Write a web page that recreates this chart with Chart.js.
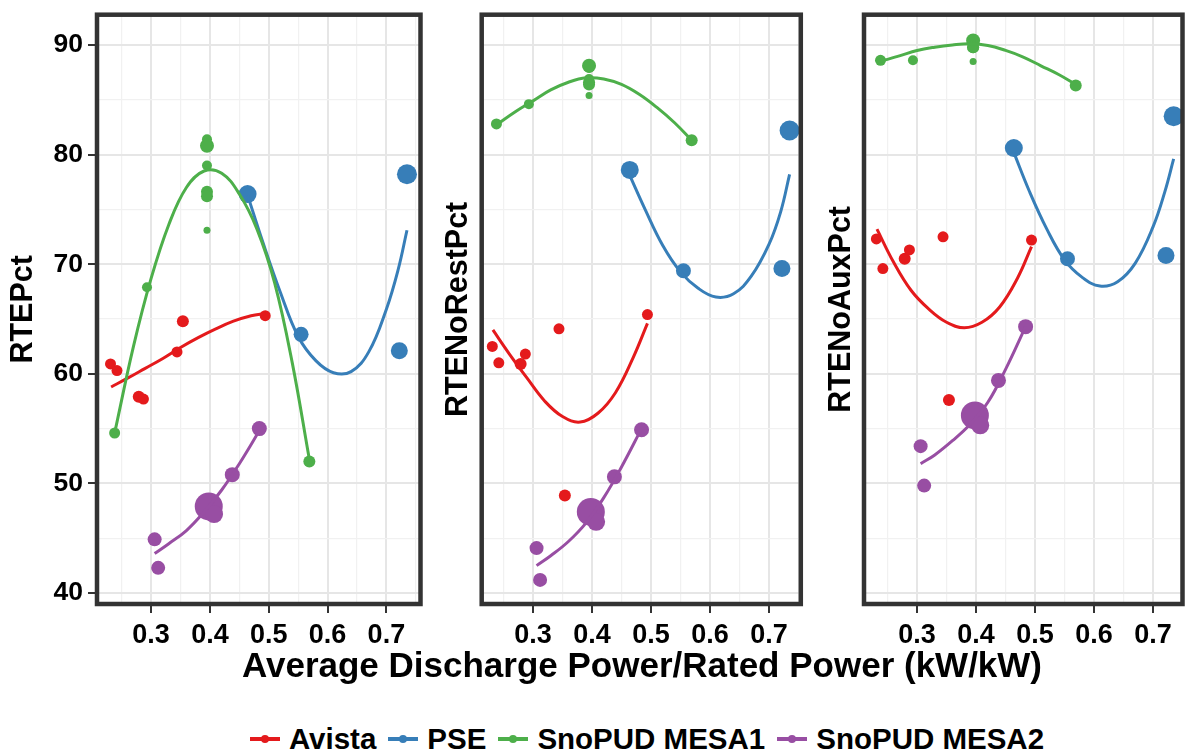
<!DOCTYPE html>
<html>
<head>
<meta charset="utf-8">
<script src="https://cdn.jsdelivr.net/npm/chart.js@4.4.1/dist/chart.umd.min.js"></script>
<style>
  body { margin: 0; background: #fff; width: 1188px; height: 756px; position: relative; overflow: hidden;
         font-family: "Liberation Sans", Arial, sans-serif; }
  canvas.panel { position: absolute; top: 0; }
  #xtitle { position: absolute; left: 0; width: 1284px; top: 645px; text-align: center;
            font-size: 35px; line-height: 40px; font-weight: bold; color: #000; }
  #legend { position: absolute; left: 59px; width: 1188px; top: 723px; display: flex; justify-content: center;
            font-size: 29.5px; line-height: 32px; font-weight: bold; color: #000; }
  .item { display: flex; align-items: center; margin-right: 12px; }
  .key { position: relative; width: 30px; height: 32px; margin-right: 9px; }
  .key .ln { position: absolute; left: 0; top: 14px; width: 30px; height: 3.5px; }
  .key .dt { position: absolute; left: 11px; top: 11.5px; width: 8px; height: 8px; border-radius: 50%; }
</style>
</head>
<body>
<canvas id="c1" class="panel" width="424" height="660" style="left:0px"></canvas>
<canvas id="c2" class="panel" width="374" height="660" style="left:430px"></canvas>
<canvas id="c3" class="panel" width="374" height="660" style="left:814px"></canvas>
<div id="xtitle">Average Discharge Power/Rated Power (kW/kW)</div>
<div id="legend"></div>
<script>
// axis ticks
var xMajor = [0.3, 0.4, 0.5, 0.6, 0.7];
var xMinor = [0.25, 0.35, 0.45, 0.55, 0.65, 0.75];
var yMajor = [40, 50, 60, 70, 80, 90];
var yMinor = [45, 55, 65, 75, 85];

var companies = ["Avista", "PSE", "SnoPUD MESA1", "SnoPUD MESA2"];
var colors = ["#E41A1C", "#377EB8", "#4DAF4A", "#984EA3"];
var metrics = ["RTEPct", "RTENoRestPct", "RTENoAuxPct"];

// test points (x shared by the three panels, size = marker size)
var avistaX = [0.231, 0.242, 0.279, 0.287, 0.344, 0.354, 0.494];
var avistaSize = [5.5, 5.5, 6, 5.5, 5.5, 6, 5.5];
var avistaRTE = [60.9, 60.3, 57.9, 57.7, 62.0, 64.8, 65.3];
var avistaNoRest = [62.5, 61.0, 60.9, 61.8, 64.1, 48.9, 65.4];
var avistaNoAux = [72.3, 69.6, 70.5, 71.3, 72.5, 57.6, 72.2];

var pseX = [0.464, 0.555, 0.722, 0.735];
var pseSize = [9, 7.5, 8.5, 10];
var pseRTE = [76.4, 63.6, 62.1, 78.2];
var pseNoRest = [78.6, 69.4, 69.6, 82.2];
var pseNoAux = [80.6, 70.5, 70.8, 83.5];

var mesa1X = [0.238, 0.293, 0.395, 0.395, 0.395, 0.395, 0.395, 0.395, 0.569];
var mesa1Size = [5.5, 5, 5, 7, 5, 6, 6, 3.5, 6];
var mesa1RTE = [54.6, 67.9, 81.4, 80.8, 79.0, 76.6, 76.2, 73.1, 52.0];
var mesa1NoRest = [82.8, 84.6, 87.9, 88.1, 86.9, 86.6, 86.4, 85.4, 81.3];
var mesa1NoAux = [88.6, 88.6, 90.4, 90.4, 90.0, 89.8, 89.8, 88.5, 86.3];

var mesa2X = [0.306, 0.312, 0.398, 0.407, 0.438, 0.484];
var mesa2Size = [7, 7, 14, 9, 7.5, 7.5];
var mesa2RTE = [44.9, 42.3, 47.9, 47.2, 50.8, 55.0];
var mesa2NoRest = [44.1, 41.2, 47.4, 46.5, 50.6, 54.9];
var mesa2NoAux = [53.4, 49.8, 56.2, 55.3, 59.4, 64.3];

// fitted curves
var avistaFitX = [0.232, 0.26, 0.29, 0.32, 0.35, 0.38, 0.41, 0.44, 0.47, 0.494];
var avistaFitRTE = [58.8, 59.6, 60.5, 61.4, 62.4, 63.3, 64.1, 64.8, 65.3, 65.5];
var avistaFitNoRest = [64.0, 61.8, 59.6, 57.5, 56.1, 55.6, 56.4, 58.3, 61.5, 64.6];
var avistaFitNoAux = [73.2, 70.2, 67.6, 65.9, 64.7, 64.2, 64.7, 66.1, 68.7, 71.6];

var pseFitX = [0.464, 0.49, 0.52, 0.55, 0.58, 0.61, 0.64, 0.67, 0.70, 0.72, 0.735];
var pseFitRTE = [76.3, 72.0, 67.4, 63.4, 61.2, 60.1, 60.2, 62.0, 65.9, 69.5, 73.1];
var pseFitNoRest = [78.1, 75.0, 71.7, 69.3, 67.8, 67.0, 67.3, 68.9, 71.8, 74.8, 78.2];
var pseFitNoAux = [80.2, 76.7, 73.2, 70.4, 68.8, 68.0, 68.4, 70.1, 73.4, 76.6, 79.6];

var mesa1FitX = [0.238, 0.27, 0.30, 0.33, 0.36, 0.39, 0.42, 0.45, 0.48, 0.51, 0.54, 0.569];
var mesa1FitRTE = [54.6, 62.5, 68.7, 73.6, 77.0, 78.5, 78.3, 76.4, 73.2, 68.3, 61.0, 52.2];
var mesa1FitNoRest = [82.7, 83.9, 84.9, 85.9, 86.6, 87.0, 86.9, 86.4, 85.5, 84.3, 82.9, 81.3];
var mesa1FitNoAux = [88.5, 89.0, 89.5, 89.8, 90.0, 90.1, 89.95, 89.5, 88.9, 88.1, 87.3, 86.4];

var mesa2FitX = [0.306, 0.33, 0.36, 0.39, 0.42, 0.45, 0.484];
var mesa2FitRTE = [43.6, 44.5, 45.7, 47.4, 49.4, 51.8, 54.8];
var mesa2FitNoRest = [42.5, 43.4, 44.7, 46.4, 48.7, 51.5, 55.0];
var mesa2FitNoAux = [51.8, 52.6, 53.9, 55.4, 57.4, 60.4, 64.3];

var series = [
  { x: avistaX, size: avistaSize, y: [avistaRTE, avistaNoRest, avistaNoAux],
    fitX: avistaFitX, fitY: [avistaFitRTE, avistaFitNoRest, avistaFitNoAux] },
  { x: pseX, size: pseSize, y: [pseRTE, pseNoRest, pseNoAux],
    fitX: pseFitX, fitY: [pseFitRTE, pseFitNoRest, pseFitNoAux] },
  { x: mesa1X, size: mesa1Size, y: [mesa1RTE, mesa1NoRest, mesa1NoAux],
    fitX: mesa1FitX, fitY: [mesa1FitRTE, mesa1FitNoRest, mesa1FitNoAux] },
  { x: mesa2X, size: mesa2Size, y: [mesa2RTE, mesa2NoRest, mesa2NoAux],
    fitX: mesa2FitX, fitY: [mesa2FitRTE, mesa2FitNoRest, mesa2FitNoAux] }
];

// panel layout (canvas px)
var panels = [
  { id: "c1", showY: true,  xMin: 0.208, xMax: 0.758, axisW: 97,   padR: 3.5, titlePad: 5.7 },
  { id: "c2", showY: false, xMin: 0.213, xMax: 0.754, axisW: 51.7, padR: 3.2, titlePad: 10.2 },
  { id: "c3", showY: false, xMin: 0.210, xMax: 0.750, axisW: 50,   padR: 5.5, titlePad: 9.7 }
];

var FONT = "'Liberation Sans', Arial, sans-serif";

function isMajor(v, list) {
  for (var i = 0; i < list.length; i++) {
    if (Math.abs(list[i] - v) < 1e-6) return true;
  }
  return false;
}

function toPoints(xs, ys) {
  var out = [];
  for (var i = 0; i < xs.length; i++) out.push({ x: xs[i], y: ys[i] });
  return out;
}

// no extra room for edge labels, the panel box is fixed
function noPadding(scale) {
  scale.paddingTop = 0;
  scale.paddingBottom = 0;
  scale.paddingLeft = 0;
  scale.paddingRight = 0;
}

var panelBorder = {
  id: "panelBorder",
  afterDatasetsDraw: function(chart) {
    var a = chart.chartArea, ctx = chart.ctx;
    ctx.save();
    ctx.strokeStyle = "#333333";
    ctx.lineWidth = 4.5;
    ctx.strokeRect(a.left, a.top, a.right - a.left, a.bottom - a.top);
    ctx.restore();
  }
};

function drawPanel(p, k) {
  var datasets = [];
  series.forEach(function(s, i) {
    datasets.push({
      label: companies[i] + " fit",
      data: toPoints(s.fitX, s.fitY[k]),
      showLine: true,
      borderColor: colors[i],
      borderWidth: 3,
      pointRadius: 0,
      tension: 0.4,
      fill: false,
      order: 4 - i
    });
  });
  series.forEach(function(s, i) {
    datasets.push({
      label: companies[i],
      data: toPoints(s.x, s.y[k]),
      showLine: false,
      backgroundColor: colors[i],
      borderWidth: 0,
      pointRadius: s.size,
      pointHoverRadius: s.size,
      order: 10 + (4 - i)
    });
  });

  var canvas = document.getElementById(p.id);
  new Chart(canvas.getContext("2d"), {
    type: "scatter",
    data: { datasets: datasets },
    plugins: [panelBorder],
    options: {
      responsive: false,
      animation: false,
      layout: { autoPadding: false, padding: { top: 14.7, right: p.padR, bottom: 0, left: 0 } },
      plugins: { legend: { display: false }, tooltip: { enabled: false } },
      scales: {
        x: {
          type: "linear", min: p.xMin, max: p.xMax,
          afterBuildTicks: function(scale) {
            scale.ticks = xMajor.concat(xMinor).sort(function(a, b) { return a - b; })
              .map(function(v) { return { value: v }; });
          },
          afterFit: function(scale) { scale.height = 56; noPadding(scale); },
          border: { display: false },
          grid: {
            color: function(c) { return isMajor(c.tick.value, xMajor) ? "#e6e6e6" : "#f1f1f1"; },
            lineWidth: function(c) { return isMajor(c.tick.value, xMajor) ? 2 : 1.2; },
            tickColor: function(c) { return isMajor(c.tick.value, xMajor) ? "#333333" : "rgba(0,0,0,0)"; },
            tickLength: 9, tickWidth: 2
          },
          ticks: {
            autoSkip: false, maxRotation: 0, padding: 6, color: "#000",
            font: { family: FONT, size: 27, weight: "bold" },
            callback: function(v) { return isMajor(v, xMajor) ? v.toFixed(1) : ""; }
          }
        },
        y: {
          type: "linear", min: 39.0, max: 92.76,
          afterBuildTicks: function(scale) {
            scale.ticks = yMajor.concat(yMinor).sort(function(a, b) { return a - b; })
              .map(function(v) { return { value: v }; });
          },
          afterFit: function(scale) { scale.width = p.axisW; noPadding(scale); },
          border: { display: false },
          grid: {
            color: function(c) { return isMajor(c.tick.value, yMajor) ? "#e6e6e6" : "#f1f1f1"; },
            lineWidth: function(c) { return isMajor(c.tick.value, yMajor) ? 2 : 1.2; },
            tickColor: function(c) { return isMajor(c.tick.value, yMajor) ? "#333333" : "rgba(0,0,0,0)"; },
            drawTicks: p.showY, tickLength: 9, tickWidth: 2
          },
          ticks: {
            display: p.showY, autoSkip: false, padding: 5, color: "#000",
            font: { family: FONT, size: 26.5, weight: "bold" },
            callback: function(v) { return isMajor(v, yMajor) ? String(v) : ""; }
          },
          title: {
            display: true, text: metrics[k], color: "#000",
            font: { family: FONT, size: 30.5, weight: "bold" },
            padding: { top: p.titlePad, bottom: 0 }
          }
        }
      }
    }
  });
}

panels.forEach(drawPanel);

// legend
var legend = document.getElementById("legend");
companies.forEach(function(name, i) {
  var item = document.createElement("div");
  item.className = "item";
  item.innerHTML = '<span class="key"><span class="ln" style="background:' + colors[i] +
    '"></span><span class="dt" style="background:' + colors[i] + '"></span></span>' + name;
  legend.appendChild(item);
});
</script>
</body>
</html>
